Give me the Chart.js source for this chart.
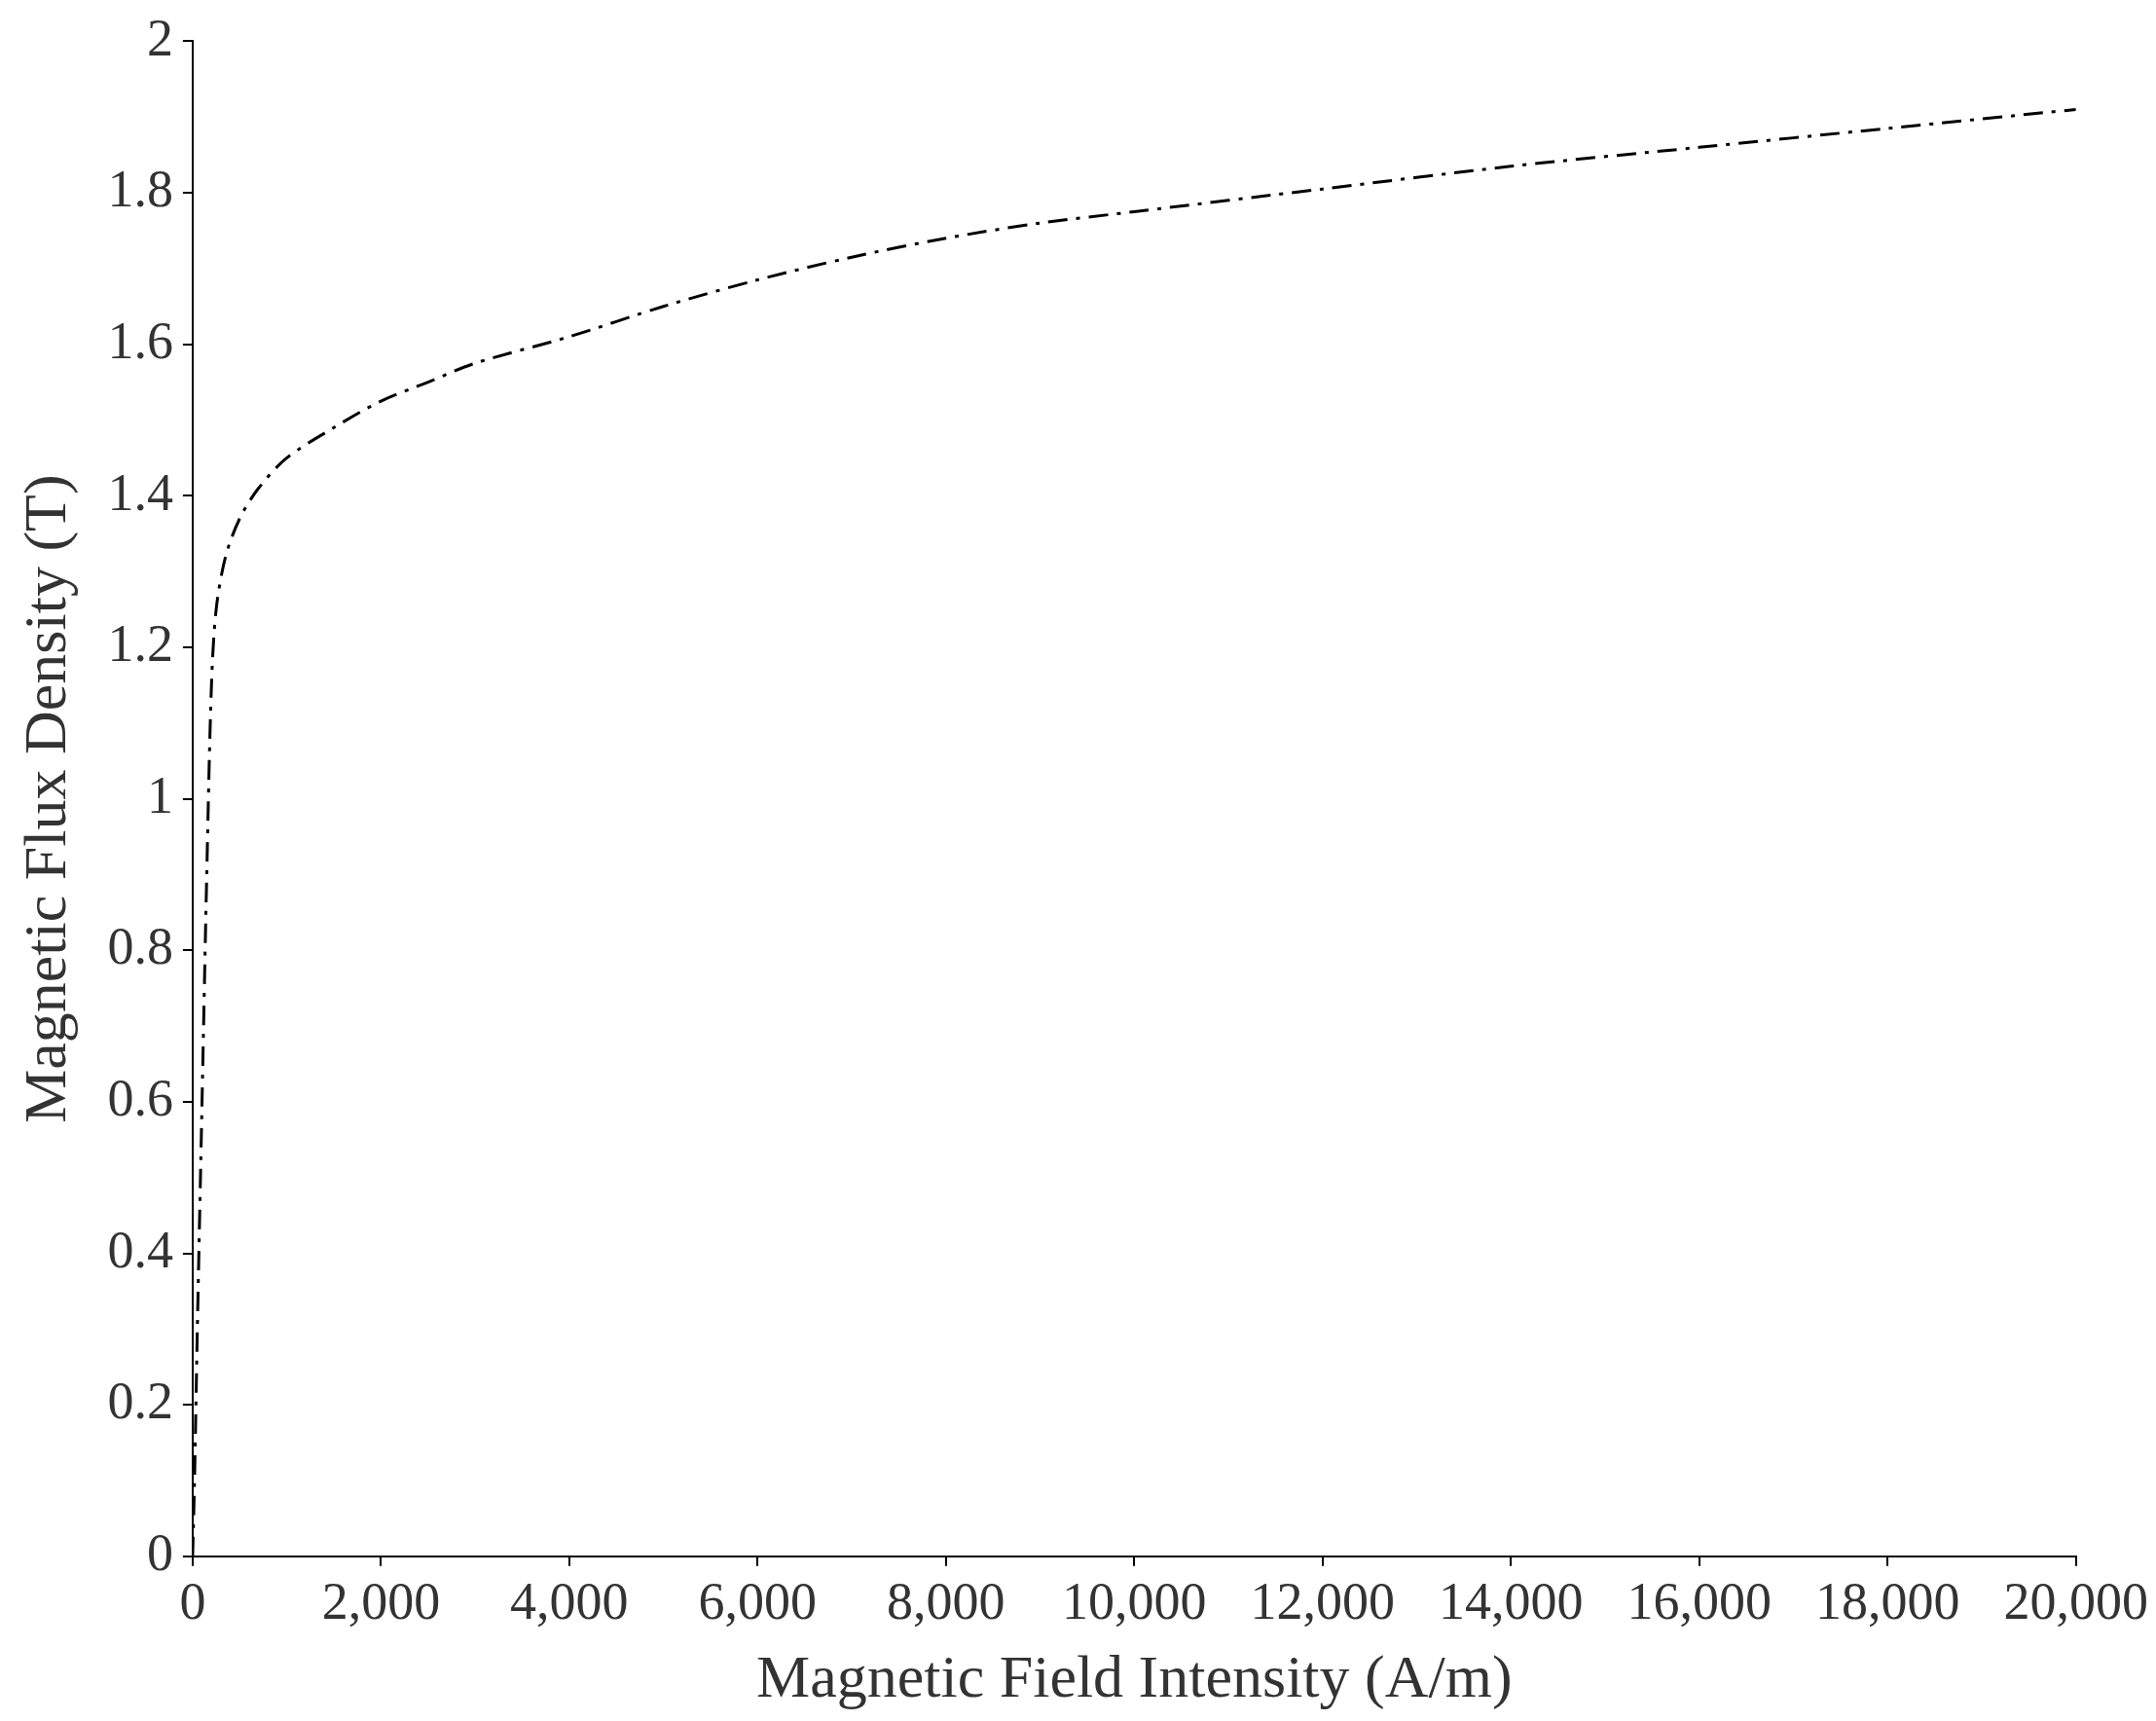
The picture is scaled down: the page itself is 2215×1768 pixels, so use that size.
<!DOCTYPE html>
<html><head><meta charset="utf-8">
<script src="https://cdn.jsdelivr.net/npm/chart.js@4/dist/chart.umd.min.js"></script>
<style>body{margin:0;background:#fff}</style>
</head><body>
<canvas id="myChart" width="2215" height="1768"></canvas>
<script>
// B-H curve
const fieldH = [0, 20, 50, 100, 150, 200, 250, 350, 500, 700, 1000, 1500, 2000, 2500, 3000, 4000, 5000, 6000, 7000, 8000, 9000, 10000, 12000, 14000, 16000, 18000, 20000];
const fluxB = [0, 0.1, 0.3, 0.6, 0.9, 1.15, 1.25, 1.32, 1.37, 1.41, 1.45, 1.49, 1.525, 1.55, 1.575, 1.61, 1.65, 1.685, 1.715, 1.74, 1.76, 1.775, 1.805, 1.835, 1.86, 1.885, 1.91];
const xTitle = 'Magnetic Field Intensity (A/m)';
const yTitle = 'Magnetic Flux Density (T)';

const font = {family: 'Liberation Serif', size: 54};
const titleFont = {family: 'Liberation Serif', size: 62};
const axisStyle = {
  grid: {drawOnChartArea: false, color: '#000', tickColor: '#000', tickLength: 10, lineWidth: 2},
  border: {color: '#000', width: 2},
};

const config = {
  type: 'line',
  data: {
    datasets: [{
      data: fieldH.map((h, i) => ({x: h, y: fluxB[i]})),
      borderColor: '#000',
      borderWidth: 3,
      borderDash: [20, 9, 4, 9],
      pointRadius: 0,
      tension: 0.3,
      fill: false
    }]
  },
  options: {
    responsive: false,
    devicePixelRatio: 1,
    animation: false,
    layout: {padding: {top: 30, right: 40, left: 10, bottom: 0}},
    plugins: {legend: {display: false}, tooltip: {enabled: false}},
    scales: {
      x: {
        type: 'linear', min: 0, max: 20000,
        ...axisStyle,
        ticks: {stepSize: 2000, color: '#333', font, padding: 8, maxRotation: 0},
        title: {display: true, text: xTitle, color: '#333', font: titleFont, padding: {top: 0}}
      },
      y: {
        min: 0, max: 2,
        ...axisStyle,
        ticks: {stepSize: 0.2, color: '#333', font, padding: 10,
          callback: v => String(Math.round(v * 10) / 10)},
        title: {display: true, text: yTitle, color: '#333', font: titleFont, padding: {bottom: 12}}
      }
    }
  }
};

const myChart = new Chart(document.getElementById('myChart'), config);
</script>
</body></html>
